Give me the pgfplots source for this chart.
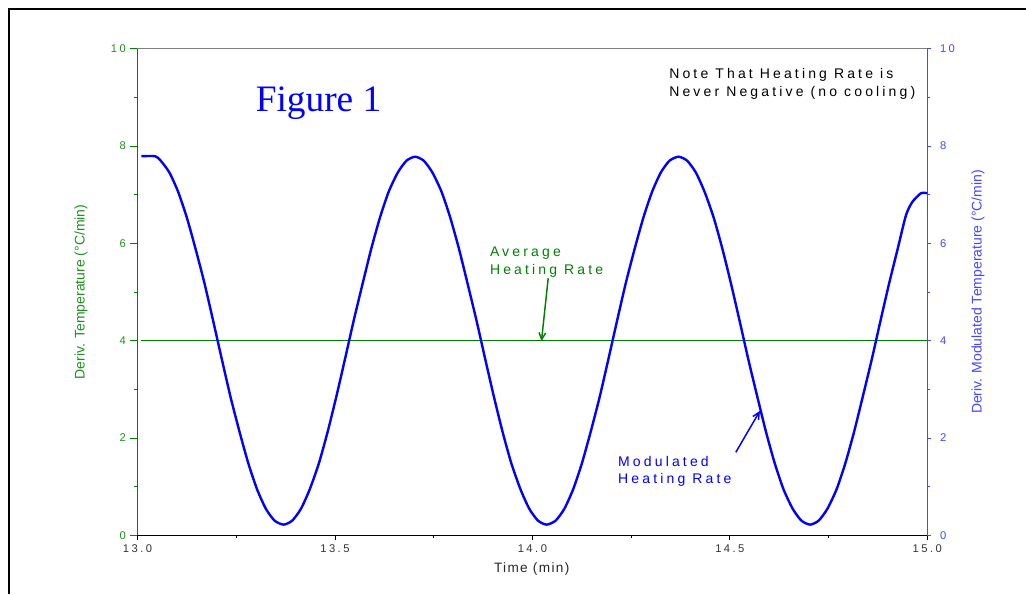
\documentclass[border=0pt]{standalone}
\usepackage{fontspec}
\setmainfont{Liberation Sans}
\newfontfamily\spfont[LetterSpace=22.5]{Liberation Sans}
\newfontfamily\tkfont[LetterSpace=22]{Liberation Sans}
\newfontfamily\tmfont[LetterSpace=10]{Liberation Sans}
\newfontfamily\serf{Liberation Serif}
\usepackage{pgfplots}
\pgfplotsset{compat=1.18}
\usetikzlibrary{arrows.meta}
\definecolor{lgreen}{RGB}{0,128,0}
\definecolor{tgreen}{RGB}{30,145,30}
\definecolor{cblue}{RGB}{0,0,255}
\definecolor{rblue}{RGB}{70,70,255}
\pgfplotsset{
  base/.style={
    at={(103.1pt,44pt)}, anchor=south west,
    scale only axis, width=592.4pt, height=365pt,
    xmin=13, xmax=15, ymin=0, ymax=10,
    tick align=outside, clip=false,
  }
}
\begin{document}
\begin{tikzpicture}
\useasboundingbox (0,0) rectangle (769.5pt,445.5pt);
\draw[line width=1.5pt] (6.4pt,0) -- (6.4pt,438.4pt) -- (769.5pt,438.4pt);

% x axis
\begin{axis}[base,
  axis x line*=bottom, axis y line=none,
  xtick={13,13.5,14,14.5,15},
  xticklabels={13.0,13.5,14.0,14.5,15.0},
  minor x tick num=1,
  major tick length=3.4pt, minor tick length=2pt,
  x axis line style={black, line width=0.8pt, -},
  x tick style={black, line width=0.6pt},
  xticklabel style={font=\tkfont\fontsize{8.4}{9}\selectfont, text=black!80},
  xlabel={Time (min)},
  xlabel style={font=\tmfont\fontsize{10.2}{12}\selectfont, at={(axis description cs:0.4991,-0.0754)}, anchor=base, text=black!85},
]
\draw[gray, line width=0.7pt] (rel axis cs:0,1) -- (rel axis cs:1,1);
\end{axis}

% left y axis
\begin{axis}[base,
  axis y line*=left, axis x line=none,
  ytick={0,2,4,6,8,10}, yticklabels={0,2,4,6,8,10},
  minor y tick num=1,
  major tick length=5.25pt, minor tick length=2.5pt,
  y axis line style={lgreen, line width=0.75pt, -},
  y tick style={lgreen, line width=0.6pt},
  yticklabel style={font=\tkfont\fontsize{8.4}{9}\selectfont, text=tgreen},
  ylabel={Deriv. Temperature (°C/min)},
  ylabel style={font=\fontsize{10.5}{12}\selectfont, text=tgreen, at={(axis description cs:-0.0715,0.5)}, anchor=center},
]
\addplot[lgreen, line width=0.6pt] coordinates {(13.01,4) (15,4)};
\draw[lgreen, line width=1.1pt, -{Straight Barb[length=5pt,width=5pt]}] (axis cs:14.040,5.282) -- (axis cs:14.023,3.993);
\node[anchor=base west, inner sep=0, text=lgreen, font=\spfont\fontsize{10.5}{12}\selectfont] at (axis cs:13.892,5.725) {Average};
\node[anchor=base west, inner sep=0, text=lgreen, font=\spfont\fontsize{10.5}{12}\selectfont] at (axis cs:13.892,5.364) {Heating Rate};
\end{axis}

% right y axis
\begin{axis}[base,
  axis y line*=right, axis x line=none,
  ytick={0,2,4,6,8,10}, yticklabels={0,2,4,6,8,10},
  minor y tick num=1,
  major tick length=3pt, minor tick length=2.2pt,
  y axis line style={rblue, line width=0.75pt, -},
  y tick style={rblue, line width=0.6pt},
  yticklabel style={font=\tkfont\fontsize{8.4}{9}\selectfont, text=rblue, xshift=3pt},
  ylabel={Deriv. Modulated Temperature (°C/min)},
  ylabel style={font=\fontsize{10.5}{12}\selectfont, text=rblue, at={(axis description cs:1.0642,0.5)}, anchor=center},
]
\addplot[cblue, line width=1.8pt, smooth, tension=0.4] coordinates {
(13.010,7.79) (13.045,7.79) (13.059,7.697) (13.081,7.453) (13.103,7.058) (13.125,6.529) (13.147,5.890) (13.170,5.168) (13.192,4.395) (13.214,3.605) (13.236,2.832) (13.259,2.110) (13.281,1.471) (13.303,0.942) (13.325,0.547) (13.347,0.303) (13.370,0.220) (13.392,0.303) (13.414,0.547) (13.436,0.942) (13.459,1.471) (13.481,2.110) (13.503,2.832) (13.525,3.605) (13.547,4.395) (13.570,5.168) (13.592,5.890) (13.614,6.529) (13.636,7.058) (13.659,7.453) (13.681,7.697) (13.703,7.780) (13.725,7.697) (13.747,7.453) (13.770,7.058) (13.792,6.529) (13.814,5.890) (13.836,5.168) (13.859,4.395) (13.881,3.605) (13.903,2.832) (13.925,2.110) (13.947,1.471) (13.970,0.942) (13.992,0.547) (14.014,0.303) (14.036,0.220) (14.059,0.303) (14.081,0.547) (14.103,0.942) (14.125,1.471) (14.147,2.110) (14.170,2.832) (14.192,3.605) (14.214,4.395) (14.236,5.168) (14.259,5.890) (14.281,6.529) (14.303,7.058) (14.325,7.453) (14.347,7.697) (14.370,7.780) (14.392,7.697) (14.414,7.453) (14.436,7.058) (14.459,6.529) (14.481,5.890) (14.503,5.168) (14.525,4.395) (14.547,3.605) (14.570,2.832) (14.592,2.110) (14.614,1.471) (14.636,0.942) (14.659,0.547) (14.681,0.303) (14.703,0.220) (14.725,0.303) (14.747,0.547) (14.770,0.942) (14.792,1.471) (14.814,2.110) (14.836,2.832) (14.859,3.605) (14.881,4.395) (14.903,5.168) (14.925,5.890) (14.946,6.580) (14.962,6.850) (14.984,7.030) (15.000,7.030)
};
\draw[cblue, line width=1.1pt, -{Straight Barb[length=5pt,width=5pt]}] (axis cs:14.515,1.706) -- (axis cs:14.576,2.555);
\node[anchor=base west, inner sep=0, text=cblue, font=\serf\fontsize{28}{32}\selectfont] at (axis cs:13.299,8.705) {Figure 1};
\node[anchor=base west, inner sep=0, text=black, font=\spfont\fontsize{10.5}{12}\selectfont] at (axis cs:14.346,9.377) {Note That Heating Rate is};
\node[anchor=base west, inner sep=0, text=black, font=\spfont\fontsize{10.5}{12}\selectfont] at (axis cs:14.346,9.014) {Never Negative (no cooling)};
\node[anchor=base west, inner sep=0, text=cblue, font=\spfont\fontsize{10.5}{12}\selectfont] at (axis cs:14.2165,1.410) {Modulated};
\node[anchor=base west, inner sep=0, text=cblue, font=\spfont\fontsize{10.5}{12}\selectfont] at (axis cs:14.2165,1.069) {Heating Rate};
\end{axis}
\end{tikzpicture}
\end{document}
